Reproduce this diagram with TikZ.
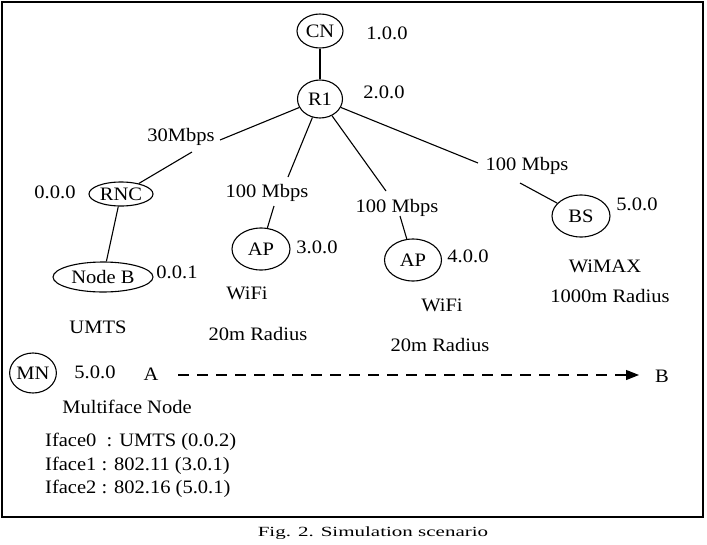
\documentclass[tikz,border=0pt]{standalone}
\usepackage{fontspec}
\setmainfont{Liberation Serif}[FakeStretch=1.08]
\newfontfamily\capfont{Liberation Serif}[FakeStretch=1.5]
\usetikzlibrary{shapes.geometric,arrows.meta}
\tikzset{
  ell/.style={draw, ellipse, inner sep=0pt, line width=1.1pt},
  lbl/.style={inner sep=0pt, font=\fontsize{19}{21}\selectfont},
  conn/.style={line width=1.1pt},
}
\begin{document}
\begin{tikzpicture}[x=1pt,y=-1pt, font=\fontsize{19}{21}\selectfont]
\useasboundingbox (0,0) rectangle (707,544);
\fill[white] (0,0) rectangle (707,544);
\draw[line width=2pt] (2,2) rectangle (703,517);

% nodes
\node[ell, minimum width=46pt, minimum height=34pt] (CN) at (320,31) {CN};
\node[ell, minimum width=45pt, minimum height=38pt] (R1) at (320,99) {R1};
\node[ell, minimum width=64pt, minimum height=24pt] (RNC) at (121,194) {RNC};
\node[ell, minimum width=100pt, minimum height=30pt] (NB) at (103,277) {Node B};
\node[ell, minimum width=58pt, minimum height=42pt] (AP1) at (261,249) {AP};
\node[ell, minimum width=57pt, minimum height=42pt] (AP2) at (413,260) {AP};
\node[ell, minimum width=58pt, minimum height=42pt] (BS) at (581,216) {BS};
\node[ell, minimum width=42pt, minimum height=40pt] (MN) at (33,373) {MN};

% labels
\node[lbl] (aCN) at (387,33) {1.0.0};
\node[lbl] (aR1) at (384,92) {2.0.0};
\node[lbl] (bw1) at (181,137) {30Mbps};
\node[lbl] (aRNC) at (55,192) {0.0.0};
\node[lbl] (bw2) at (267,193) {100 Mbps};
\node[lbl] (bw3) at (397,208) {100 Mbps};
\node[lbl] (bw4) at (527,166) {100 Mbps};
\node[lbl] (aAP1) at (317,247) {3.0.0};
\node[lbl] (aAP2) at (468,256) {4.0.0};
\node[lbl] (aBS) at (637,204) {5.0.0};
\node[lbl] (aNB) at (177,272) {0.0.1};
\node[lbl] (tU) at (98,327) {UMTS};
\node[lbl] (tW1) at (247,293) {WiFi};
\node[lbl] (tR1) at (258,334) {20m Radius};
\node[lbl] (tW2) at (442,305) {WiFi};
\node[lbl] (tR2) at (440,345) {20m Radius};
\node[lbl] (tX) at (605,266) {WiMAX};
\node[lbl] (tR3) at (610,296) {1000m Radius};
\node[lbl] (aMN) at (95,372) {5.0.0};
\node[lbl] (A) at (151,374) {A};
\node[lbl] (B) at (662,376) {B};
\node[lbl] (tMF) at (127,407) {Multiface Node};
\node[lbl, anchor=west] (if0) at (45,442) {Iface0\ \ : UMTS (0.0.2)};
\node[lbl, anchor=west] (if1) at (45,466) {Iface1 : 802.11 (3.0.1)};
\node[lbl, anchor=west] (if2) at (45,489) {Iface2 : 802.16 (5.0.1)};
\node[inner sep=0pt, font=\capfont\fontsize{14}{16}\selectfont] (cap) at (373,533) {Fig. 2. Simulation scenario};

% gap coordinates
\coordinate (g1a) at (220,140); \coordinate (g1b) at (192,152);
\coordinate (g2a) at (288,177); \coordinate (g2b) at (274,206);
\coordinate (g3a) at (386,191); \coordinate (g3b) at (400,216);
\coordinate (g4a) at (478,163); \coordinate (g4b) at (520,183);
\coordinate (pA) at (178,375); \coordinate (pB) at (639,375);

% connectors
\draw[conn] (CN) -- (R1);
\draw[conn] (R1) -- (g1a); \draw[conn] (g1b) -- (RNC);
\draw[conn] (R1) -- (g2a); \draw[conn] (g2b) -- (AP1);
\draw[conn] (R1) -- (g3a); \draw[conn] (g3b) -- (AP2);
\draw[conn] (R1) -- (g4a); \draw[conn] (g4b) -- (BS);
\draw[conn] (RNC) -- (NB);
\draw[conn, dash pattern=on 11pt off 8pt, -{Triangle[length=13pt,width=10pt]}] (pA) -- (pB);
\end{tikzpicture}
\end{document}
